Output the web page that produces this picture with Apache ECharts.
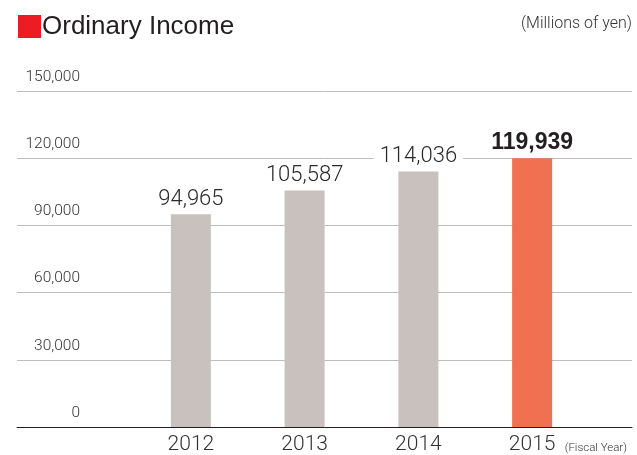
<!DOCTYPE html>
<html><head><meta charset="utf-8">
<script src="https://cdn.jsdelivr.net/npm/echarts@6/dist/echarts.min.js"></script>
<style>html,body{margin:0;padding:0;background:#fff}#c{width:637px;height:455px}</style>
</head><body><div id="c"></div>
<script>
var titleText = 'Ordinary Income';
var unitText = '(Millions of yen)';
var fiscalText = '(Fiscal Year)';
var years = ['2012', '2013', '2014', '2015'];
var values = [94965, 105587, 114036, 119939];
var yMin = 0, yMax = 150000, yStep = 30000;

var grayBar = '#c8c1be', hiBar = '#f07152';
var barData = values.map(function (v, i) {
  var last = i === values.length - 1;
  return {
    value: v,
    itemStyle: { color: last ? hiBar : grayBar },
    label: last ? { fontFamily: 'Liberation Sans', fontWeight: 'bold', fontSize: 23, color: '#231f20', distance: 5, backgroundColor: 'transparent' } : {}
  };
});

var chart = echarts.init(document.getElementById('c'), null, { renderer: 'canvas' });
chart.setOption({
  animation: false,
  grid: [
    { left: 17, right: 5, top: 91, bottom: 28 },
    { left: 134, right: 48, top: 91, bottom: 28 }
  ],
  xAxis: [
    { gridIndex: 0, type: 'value', min: 0, max: 1, axisLine: { show: true, onZero: false, lineStyle: { color: '#231f20', width: 1 } },
      axisTick: { show: false }, axisLabel: { show: false }, splitLine: { show: false } },
    { gridIndex: 1, type: 'category', data: years, axisLine: { show: false }, axisTick: { show: false },
      axisLabel: { fontFamily: 'Roboto', fontWeight: 300, fontSize: 21, color: '#333', margin: 7, verticalAlign: 'top', lineHeight: 21 } }
  ],
  yAxis: [
    { gridIndex: 0, type: 'value', min: yMin, max: yMax, interval: yStep,
      axisLine: { show: false }, axisTick: { show: false },
      splitLine: { show: true, lineStyle: { color: '#bdbdbd', width: 1 } },
      axisLabel: { inside: true, align: 'right', margin: 63, verticalAlign: 'bottom', lineHeight: 16, padding: [0, 0, 6, 0],
        fontFamily: 'Roboto', fontWeight: 300, fontSize: 15.5, color: '#333',
        formatter: function (v) { return v.toLocaleString('en-US'); } } },
    { gridIndex: 1, type: 'value', min: yMin, max: yMax, interval: yStep, show: false, splitLine: { show: false } }
  ],
  series: [{
    type: 'bar', xAxisIndex: 1, yAxisIndex: 1, barWidth: 40, data: barData,
    label: { show: true, position: 'top', distance: 4, fontFamily: 'Roboto', fontWeight: 300, fontSize: 22, lineHeight: 22,
      color: '#2a2a2a', backgroundColor: '#fff', padding: [0, 6],
      formatter: function (p) { return p.value.toLocaleString('en-US'); } }
  }],
  graphic: [
    { type: 'rect', shape: { x: 18, y: 15, width: 23, height: 23 }, style: { fill: '#ed1c24' } },
    { type: 'text', x: 42, y: 27, style: { text: titleText, fontFamily: 'Liberation Sans', fontSize: 26, fill: '#231f20', verticalAlign: 'middle' } },
    { type: 'text', x: 632, y: 24, style: { text: unitText, fontFamily: 'Roboto', fontWeight: 300, fontSize: 16, fill: '#333', align: 'right', verticalAlign: 'middle' } },
    { type: 'text', x: 627, y: 448, style: { text: fiscalText, fontFamily: 'Roboto', fontWeight: 300, fontSize: 11.5, fill: '#333', align: 'right', verticalAlign: 'middle' } }
  ]
});
</script></body></html>
